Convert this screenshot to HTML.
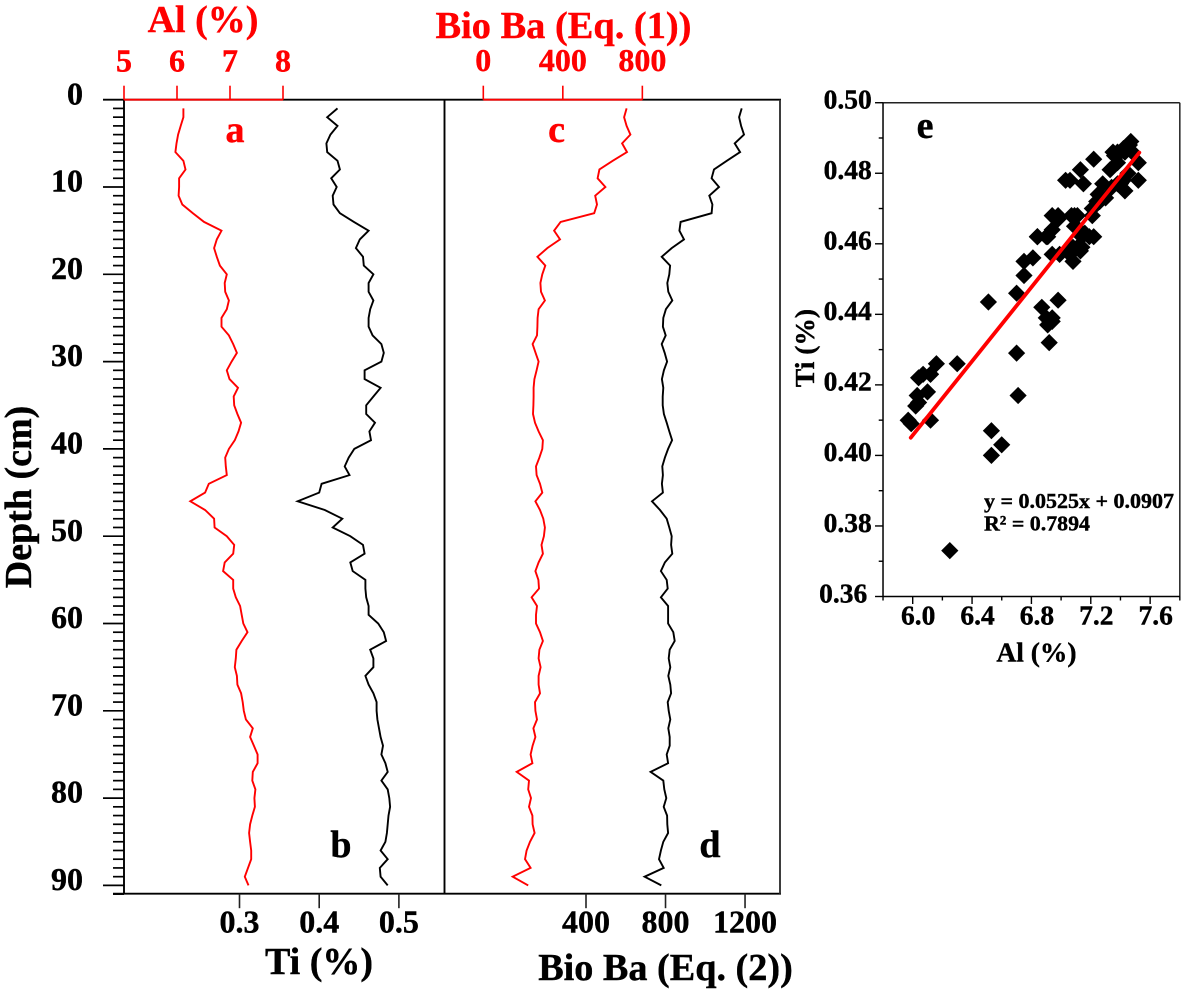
<!DOCTYPE html>
<html lang="en">
<head>
<meta charset="utf-8">
<title>Al, Ti and Bio Ba depth profiles</title>
<style>
html,body{margin:0;padding:0;background:#fff;}
svg{display:block;font-family:"Liberation Serif","DejaVu Serif",serif;font-weight:bold;}
text[fill="#f00"]{stroke:#f00;stroke-width:.4;}
text[fill="#000"]{stroke:#000;stroke-width:.4;}
</style>
</head>
<body>
<svg id="chart" xmlns="http://www.w3.org/2000/svg" width="1181" height="994" viewBox="0 0 1181 994">
  <rect x="0" y="0" width="1181" height="994" fill="#fff"/>
  <g id="marks"></g>

  <text x="203" y="32" font-size="38" fill="#f00" text-anchor="middle">Al (%)</text>
  <text x="563.5" y="38" font-size="38.4" fill="#f00" text-anchor="middle">Bio Ba (Eq. (1))</text>
  <text transform="translate(31,497) rotate(-90)" font-size="38" fill="#000" text-anchor="middle">Depth (cm)</text>
  <text x="319" y="974" font-size="38" fill="#000" text-anchor="middle">Ti (%)</text>
  <text x="665.5" y="980" font-size="38.2" fill="#000" text-anchor="middle">Bio Ba (Eq. (2))</text>

  <text x="235" y="142" font-size="38" fill="#f00" text-anchor="middle">a</text>
  <text x="341" y="857" font-size="38" fill="#000" text-anchor="middle">b</text>
  <text x="556.5" y="142" font-size="38" fill="#f00" text-anchor="middle">c</text>
  <text x="710" y="857" font-size="38" fill="#000" text-anchor="middle">d</text>
  <text x="925" y="138" font-size="38" fill="#000" text-anchor="middle">e</text>

  <text x="1036.5" y="661.5" font-size="27.5" fill="#000" text-anchor="middle">Al (%)</text>
  <text transform="translate(814,348) rotate(-90)" font-size="27.5" fill="#000" text-anchor="middle">Ti (%)</text>
  <text x="984" y="508" font-size="21" fill="#000" textLength="190" lengthAdjust="spacingAndGlyphs">y = 0.0525x + 0.0907</text>
  <text x="984" y="530.5" font-size="21" fill="#000" textLength="106" lengthAdjust="spacingAndGlyphs">R² = 0.7894</text>
</svg>

<script>
const depths = [1,2,3,4,5,6,7,8,9,10,11,12,13,14,15,16,17,18,19,20,21,22,23,24,25,26,27,28,29,30,
  31,32,33,34,35,36,37,38,39,40,41,42,43,44,45,46,47,48,49,50,51,52,53,54,55,56,57,58,59,60,
  61,62,63,64,65,66,67,68,69,70,71,72,73,74,75,76,77,78,79,80,81,82,83,84,85,86,87,88,89,90];

const alValues = [6.12,6.12,6.07,6.02,5.99,5.97,6.12,6.16,6.04,6.04,6.03,6.10,6.30,6.51,6.84,6.75,6.70,6.75,6.81,6.94,
  6.90,6.91,6.98,6.94,6.84,6.84,6.98,7.06,7.13,7.03,6.94,6.99,7.15,7.07,7.08,7.14,7.21,7.16,7.09,6.98,
  6.91,6.92,6.94,6.60,6.53,6.25,6.53,6.70,6.71,6.94,7.08,7.06,6.90,6.87,7.06,7.06,7.11,7.19,7.22,7.25,
  7.33,7.22,7.12,7.11,7.09,7.13,7.14,7.21,7.24,7.26,7.30,7.43,7.38,7.45,7.52,7.52,7.43,7.42,7.48,7.46,
  7.47,7.42,7.38,7.36,7.38,7.40,7.40,7.34,7.28,7.35];

const tiValues = [0.423,0.410,0.423,0.414,0.409,0.410,0.423,0.426,0.415,0.422,0.417,0.418,0.426,0.4435,0.462,0.451,0.446,0.455,0.456,0.468,
  0.462,0.462,0.468,0.464,0.462,0.462,0.467,0.478,0.481,0.478,0.457,0.457,0.477,0.468,0.459,0.459,0.470,0.463,0.465,0.444,
  0.437,0.432,0.438,0.403,0.400,0.373,0.407,0.429,0.417,0.439,0.455,0.457,0.439,0.442,0.458,0.458,0.459,0.462,0.462,0.474,
  0.481,0.484,0.464,0.468,0.468,0.458,0.462,0.468,0.472,0.472,0.473,0.475,0.477,0.480,0.478,0.483,0.486,0.478,0.486,0.488,
  0.489,0.487,0.486,0.485,0.483,0.477,0.486,0.476,0.477,0.486];

const bioBaEq1Values = [721,708,721,740,698,723,651,584,575,614,563,572,558,389,356,386,322,272,312,297,
  287,290,310,278,273,272,270,248,263,278,268,257,253,253,252,250,260,278,300,297,
  282,265,268,285,297,262,285,302,310,305,293,300,278,262,277,280,243,270,265,265,
  285,300,282,278,288,278,278,285,260,262,270,252,262,248,238,247,168,230,226,240,
  230,247,248,258,235,218,210,238,148,226];

const bioBaEq2Values = [1183,1170,1180,1195,1148,1175,1108,1044,1032,1069,1020,1036,1032,876,870,893,831,781,823,819,
  809,814,834,802,789,787,801,781,796,808,792,782,789,786,786,792,806,819,833,813,
  797,784,787,782,787,732,772,806,819,831,828,834,797,777,806,811,777,813,813,813,
  839,846,821,816,824,814,824,828,811,816,824,814,821,821,806,813,725,789,794,804,
  791,808,809,813,789,777,767,791,695,779];

const depthTickLabels = [0,10,20,30,40,50,60,70,80,90];
const alTickLabels = [5,6,7,8];
const tiTickLabels = [0.3,0.4,0.5];
const bioBaEq1TickLabels = [0,400,800];
const bioBaEq2TickLabels = [400,800,1200];
const scatterXTickLabels = [6.0,6.4,6.8,7.2,7.6];
const scatterXMinorTicks = [5.8,6.2,6.6,7.0,7.4,7.8];
const scatterYTickLabels = [0.50,0.48,0.46,0.44,0.42,0.40,0.38,0.36];
const scatterYMinorTicks = [0.49,0.47,0.45,0.43,0.41,0.39,0.37];
const regressionSlope = 0.0525;
const regressionIntercept = 0.0907;
const regressionXRange = [5.987,7.527];

const NS = 'http://www.w3.org/2000/svg';
const marks = document.getElementById('marks');

/* axis functions */
const yDepth = d => 99.7 + 8.73 * d;
const xAl = v => 124 + (v - 5) * 53;
const xTi = v => 239.5 + (v - 0.3) * 797;
const xEq1 = v => 483.3 + v * 0.1988;
const xEq2 = v => 586 + (v - 400) * 0.1988;
const xScatter = v => 912.7 + (v - 6) * 148.4;
const yScatter = v => 596.5 - (v - 0.36) * 3527;

function shape(tag, attrs) {
  const el = document.createElementNS(NS, tag);
  for (const k in attrs) el.setAttribute(k, attrs[k]);
  marks.appendChild(el);
  return el;
}
function seg(x1, y1, x2, y2, color, width) {
  return shape('line', {x1, y1, x2, y2, stroke: color, 'stroke-width': width});
}
function label(str, x, y, size, color, anchor) {
  const el = shape('text', {x, y, 'font-size': size, fill: color, 'text-anchor': anchor});
  el.textContent = str;
  return el;
}
function named(el, name) {
  
  
  return el;
}

/* frames of the depth panels */
const topY = yDepth(0), botY = 893.7;
named(seg(103, topY, 781, topY, '#000', 1.9), 'depth-panels-top-axis');
named(seg(113, botY, 781, botY, '#000', 1.9), 'depth-panels-bottom-axis');
named(seg(124, topY, 124, botY, '#000', 1.9), 'depth-axis-line');
named(seg(444.5, topY, 444.5, botY, '#000', 1.9), 'panel-divider');
named(seg(780, topY, 780, botY, '#333', 1.9), 'depth-panels-right-border');

/* depth ticks */
depths.forEach(d => {
  if (d % 10 !== 0) named(seg(113, yDepth(d), 124, yDepth(d), '#000', 1.7), 'depth-minor-tick');
});
named(seg(113, yDepth(91), 124, yDepth(91), '#000', 1.7), 'depth-minor-tick');
depthTickLabels.forEach(d => {
  if (d !== 0) named(seg(103, yDepth(d), 124, yDepth(d), '#000', 1.7), 'depth-major-tick');
  named(label(String(d), 83, yDepth(d) + 4.6, 32, '#000', 'end'), 'depth-tick-label');
});

/* red top axes */
named(seg(xAl(alTickLabels[0]), topY, xAl(alTickLabels[3]), topY, '#f00', 1.9), 'al-axis-line');
alTickLabels.forEach(v => {
  named(seg(xAl(v), topY - 14, xAl(v), topY, '#f00', 1.6), 'al-tick');
  named(label(String(v), xAl(v), 71.7, 32, '#f00', 'middle'), 'al-tick-label');
});
named(seg(xEq1(bioBaEq1TickLabels[0]), topY, xEq1(bioBaEq1TickLabels[2]), topY, '#f00', 1.9), 'bio-ba-eq1-axis-line');
bioBaEq1TickLabels.forEach(v => {
  named(seg(xEq1(v), topY - 14, xEq1(v), topY, '#f00', 1.6), 'bio-ba-eq1-tick');
  named(label(String(v), xEq1(v), 71, 32, '#f00', 'middle'), 'bio-ba-eq1-tick-label');
});

/* black bottom axes */
tiTickLabels.forEach(v => {
  named(seg(xTi(v), botY, xTi(v), botY + 14.5, '#222', 1.6), 'ti-tick');
  named(label(v.toFixed(1), xTi(v), 932.7, 32, '#000', 'middle'), 'ti-tick-label');
});
bioBaEq2TickLabels.forEach(v => {
  named(seg(xEq2(v), botY, xEq2(v), botY + 14.5, '#222', 1.6), 'bio-ba-eq2-tick');
  named(label(String(v), xEq2(v), 932.7, 32, '#000', 'middle'), 'bio-ba-eq2-tick-label');
});

/* depth-profile series */
function profile(values, xFn, color, name) {
  const pts = values.map((v, i) => xFn(v).toFixed(1) + ',' + yDepth(depths[i]).toFixed(1)).join(' ');
  const el = shape('polyline', {points: pts, fill: 'none', stroke: color, 'stroke-width': 1.9, 'stroke-linejoin': 'miter'});
  return named(el, name);
}
profile(alValues, xAl, '#f00', 'al-series');
profile(tiValues, xTi, '#000', 'ti-series');
profile(bioBaEq1Values, xEq1, '#f00', 'bio-ba-eq1-series');
profile(bioBaEq2Values, xEq2, '#000', 'bio-ba-eq2-series');

/* scatter frame */
const scatterLeft = xScatter(5.8), scatterRight = xScatter(7.8);
const scatterTop = yScatter(0.50), scatterBottom = yScatter(0.36);
named(seg(scatterLeft, scatterTop, scatterRight, scatterTop, '#222', 1.5), 'scatter-top-border');
named(seg(scatterRight, scatterTop, scatterRight, scatterBottom, '#222', 1.5), 'scatter-right-border');
named(seg(scatterLeft, scatterTop, scatterLeft, scatterBottom, '#000', 1.5), 'scatter-y-axis-line');
named(seg(scatterLeft, scatterBottom, scatterRight, scatterBottom, '#000', 1.5), 'scatter-x-axis-line');

scatterXMinorTicks.forEach(v => {
  named(seg(xScatter(v), scatterBottom, xScatter(v), scatterBottom + 4, '#000', 1.4), 'scatter-x-minor-tick');
});
scatterXTickLabels.forEach(v => {
  named(seg(xScatter(v), scatterBottom, xScatter(v), scatterBottom + 7.5, '#000', 1.4), 'scatter-x-major-tick');
  named(label(v.toFixed(1), xScatter(v) + 5.5, 624.3, 27.5, '#000', 'middle'), 'scatter-x-tick-label');
});
scatterYMinorTicks.forEach(v => {
  named(seg(scatterLeft - 4.3, yScatter(v), scatterLeft, yScatter(v), '#000', 1.4), 'scatter-y-minor-tick');
});
scatterYTickLabels.forEach(v => {
  named(seg(scatterLeft - 8, yScatter(v), scatterLeft, yScatter(v), '#000', 1.4), 'scatter-y-major-tick');
  const rightEdge = v === 0.36 ? 867.3 : 871.7;
  named(label(v.toFixed(2), rightEdge, yScatter(v) + 5.8, 27.5, '#000', 'end'), 'scatter-y-tick-label');
});

/* scatter points */
alValues.forEach((al, i) => {
  const cx = xScatter(al), cy = yScatter(tiValues[i]), r = 8.6;
  const pts = [[cx, cy - r], [cx + r, cy], [cx, cy + r], [cx - r, cy]].map(p => p[0].toFixed(1) + ',' + p[1].toFixed(1)).join(' ');
  named(shape('polygon', {points: pts, fill: '#000'}), 'scatter-point');
});

/* regression line */
const fit = x => regressionSlope * x + regressionIntercept;
const fitLine = shape('line', {
  x1: xScatter(regressionXRange[0]), y1: yScatter(fit(regressionXRange[0])),
  x2: xScatter(regressionXRange[1]), y2: yScatter(fit(regressionXRange[1])),
  stroke: '#f00', 'stroke-width': 3.8, 'stroke-linecap': 'round'
});
named(fitLine, 'regression-line');
</script>
</body>
</html>
